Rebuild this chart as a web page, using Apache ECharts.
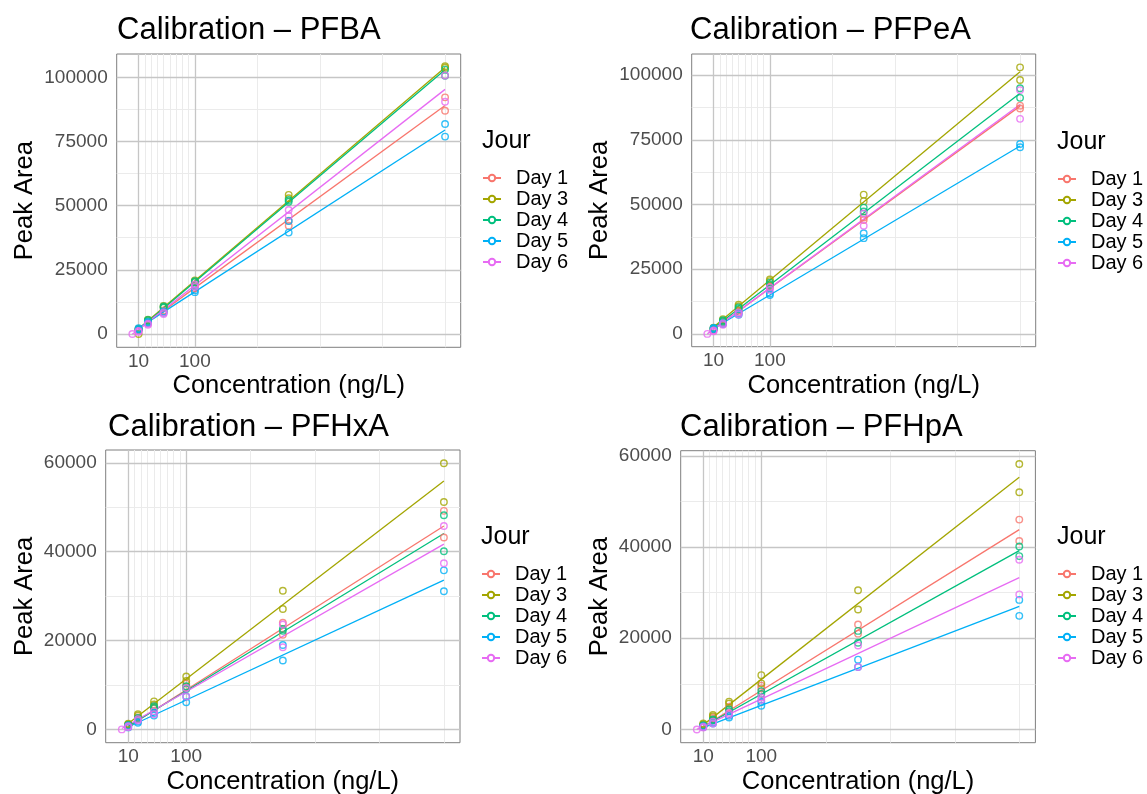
<!DOCTYPE html>
<html><head><meta charset="utf-8">
<script src="https://cdn.jsdelivr.net/npm/echarts@6/dist/echarts.min.js"></script>
<style>html,body{margin:0;padding:0;background:#fff}#c{width:1147px;height:794px}</style>
</head><body><div id="c"></div>
<script>
// ---------- DATA ----------
const days = ['Day 1', 'Day 3', 'Day 4', 'Day 5', 'Day 6'];
const concentrations = [0, 10, 25, 50, 100, 250, 500];
const xTickLabels = [10, 100];
const xTickMarks = [10, 20, 30, 40, 50, 60, 70, 80, 90, 100, 200, 300, 400, 500];
const xMinorGrid = [20, 30, 40, 50, 60, 70, 80, 90, 200, 300, 400, 500];
const yLabels100k = [0, 25000, 50000, 75000, 100000];
const yMinor100k = [12500, 37500, 62500, 87500];
const yLabels60k = [0, 20000, 40000, 60000];
const yMinor60k = [10000, 30000, 50000];

// replicate peak areas per concentration (null = no point)
const PFBA_D1 = [null, [1900, 1500], [4700, 4300], [9200, 8700], [18500, 17800], [44100, 42200], [92200, 87000]];
const PFBA_D3 = [null, [2100, 0], [5600, 5300], [10900, 10400], [20900, 20400], [54200, 52900], [104300, 103700]];
const PFBA_D4 = [null, [1900, 1700], [5500, 5000], [10700, 10300], [20600, 20200], [52200, 51500], [103000, 100600]];
const PFBA_D5 = [null, [2300, 1800], [4700, 4300], [8800, 8300], [17000, 16300], [44000, 39500], [81800, 76900]];
const PFBA_D6 = [[0], [1200, 900], [4000, 3600], [8400, 7800], [19300, 18400], [48300, 46000], [100700, 90500]];
const PFBA_FIT_X0 = [10, 10, 10, 10, 0];
const PFBA_FIT_Y0 = [2000, 2050, 1750, 2300, -100];
const PFBA_FIT_Y1 = [89000, 103800, 102900, 79500, 95300];

const PFPeA_D1 = [null, [1900, 1600], [4600, 4200], [9000, 8500], [18500, 17800], [45000, 44000], [88200, 87100]];
const PFPeA_D3 = [null, [2400, 2000], [5700, 5200], [11300, 10700], [21000, 20400], [53800, 51300], [103000, 98100]];
const PFPeA_D4 = [null, [2200, 1900], [5300, 4900], [10200, 9600], [19800, 19000], [48800, 47300], [94900, 91200]];
const PFPeA_D5 = [null, [2300, 1900], [4200, 3800], [7900, 7400], [15600, 15000], [38900, 37000], [73400, 72100]];
const PFPeA_D6 = [[0], [1300, 1000], [4000, 3500], [8300, 7600], [18000, 17000], [46500, 41800], [94200, 83100]];
const PFPeA_FIT_X0 = [10, 10, 10, 10, 0];
const PFPeA_FIT_Y0 = [1800, 2700, 2250, 2100, 0];
const PFPeA_FIT_Y1 = [88000, 101300, 93000, 72600, 88600];

const PFHxA_D1 = [null, [1100, 900], [2700, 2400], [5300, 4700], [10300, 9600], [24000, 21300], [49200, 43200]];
const PFHxA_D3 = [null, [1300, 1100], [3400, 3100], [6300, 5600], [11900, 10900], [31200, 27100], [59900, 51200]];
const PFHxA_D4 = [null, [1000, 800], [2600, 2300], [5200, 4800], [9700, 9100], [22600, 22200], [48200, 40100]];
const PFHxA_D5 = [null, [800, 450], [1800, 1500], [3700, 3100], [7400, 6100], [19000, 15500], [35800, 31100]];
const PFHxA_D6 = [[0], [700, 500], [2300, 2000], [4100, 3400], [9300, 7400], [23600, 18500], [45800, 37400]];
const PFHxA_FIT_X0 = [10, 10, 10, 10, 0];
const PFHxA_FIT_Y0 = [600, 1300, 700, 530, 200];
const PFHxA_FIT_Y1 = [45800, 55900, 44100, 33600, 41700];

const PFHpA_D1 = [null, [1000, 800], [2600, 2300], [5000, 4600], [9600, 9000], [23000, 21000], [46000, 41300]];
const PFHpA_D3 = [null, [1300, 1100], [3200, 2900], [6100, 5700], [11900, 10100], [30500, 26300], [58200, 52000]];
const PFHpA_D4 = [null, [900, 700], [2200, 2000], [4400, 4000], [8400, 7800], [21600, 19000], [40100, 38000]];
const PFHpA_D5 = [null, [700, 500], [1600, 1300], [3000, 2600], [6000, 5200], [15300, 13700], [28400, 24900]];
const PFHpA_D6 = [[0], [600, 400], [1700, 1300], [3600, 3200], [7000, 6500], [18400, 13700], [37200, 29600]];
const PFHpA_FIT_X0 = [10, 10, 10, 10, 0];
const PFHpA_FIT_Y0 = [600, 1000, 630, 400, 0];
const PFHpA_FIT_Y1 = [43800, 55300, 39200, 27000, 33300];
const FIT_X1 = 500;

// ---------- LAYOUT / STYLE ----------
const colors = ['#F8766D', '#A3A500', '#00BF7D', '#00B0F6', '#E76BF3'];
const FONT = '"Liberation Sans", Arial, Helvetica, sans-serif';
const panels = [
  { title: 'Calibration – PFBA', data: [PFBA_D1, PFBA_D3, PFBA_D4, PFBA_D5, PFBA_D6], fx0: PFBA_FIT_X0, fy0: PFBA_FIT_Y0, fy1: PFBA_FIT_Y1,
    yLab: yLabels100k, yMin: yMinor100k, ymin: -5180, ymax: 109080,
    grid: { left: 116.7, top: 54, width: 344, height: 293.3 }, yGap: 79, titleXY: [117, 30], legX: 482, jourY: 141 },
  { title: 'Calibration – PFPeA', data: [PFPeA_D1, PFPeA_D3, PFPeA_D4, PFPeA_D5, PFPeA_D6], fx0: PFPeA_FIT_X0, fy0: PFPeA_FIT_Y0, fy1: PFPeA_FIT_Y1,
    yLab: yLabels100k, yMin: yMinor100k, ymin: -4950, ymax: 108150,
    grid: { left: 691.7, top: 54, width: 344, height: 292.7 }, yGap: 79, titleXY: [690, 30], legX: 1057, jourY: 142 },
  { title: 'Calibration – PFHxA', data: [PFHxA_D1, PFHxA_D3, PFHxA_D4, PFHxA_D5, PFHxA_D6], fx0: PFHxA_FIT_X0, fy0: PFHxA_FIT_Y0, fy1: PFHxA_FIT_Y1,
    yLab: yLabels60k, yMin: yMinor60k, ymin: -3000, ymax: 62900,
    grid: { left: 105.7, top: 450, width: 354.3, height: 292.7 }, yGap: 68, titleXY: [108, 427], legX: 481, jourY: 537 },
  { title: 'Calibration – PFHpA', data: [PFHpA_D1, PFHpA_D3, PFHpA_D4, PFHpA_D5, PFHpA_D6], fx0: PFHpA_FIT_X0, fy0: PFHpA_FIT_Y0, fy1: PFHpA_FIT_Y1,
    yLab: yLabels60k, yMin: yMinor60k, ymin: -2910, ymax: 61110,
    grid: { left: 680.7, top: 450.7, width: 354.7, height: 292 }, yGap: 68, titleXY: [680, 427], legX: 1057, jourY: 537 }
];

const grids = [], xAxes = [], yAxes = [], series = [], legends = [], graphics = [];
const MAJOR = '#c6c6c6', MINOR = '#ebebeb';

panels.forEach((p, i) => {
  grids.push(Object.assign({ show: true, borderColor: '#7f7f7f', borderWidth: 1, backgroundColor: 'transparent', containLabel: false, outerBoundsMode: 'none' }, p.grid));
  xAxes.push({
    gridIndex: i, type: 'value', min: -25, max: 525,
    axisLine: { show: false }, splitLine: { show: false }, minorTick: { show: false },
    axisTick: { show: true, customValues: xTickMarks, length: 4, lineStyle: { color: '#333', width: 1 } },
    axisLabel: { customValues: xTickLabels, formatter: v => String(v), fontSize: 19, color: '#4d4d4d', margin: 5, fontFamily: FONT },
    name: 'Concentration (ng/L)', nameLocation: 'middle', nameGap: 26,
    nameTextStyle: { fontSize: 25.5, color: '#000', fontFamily: FONT }
  });
  const yTicks = p.yLab.concat(p.yMin).sort((a, b) => a - b);
  yAxes.push({
    gridIndex: i, type: 'value', min: p.ymin, max: p.ymax,
    axisLine: { show: false }, splitLine: { show: false },
    axisTick: { show: true, customValues: yTicks, length: 4, lineStyle: { color: '#333', width: 1 } },
    axisLabel: { customValues: p.yLab, formatter: v => String(v), fontSize: 19, color: '#4d4d4d', margin: 9, fontFamily: FONT },
    name: 'Peak Area', nameLocation: 'middle', nameGap: p.yGap,
    nameTextStyle: { fontSize: 25.5, color: '#000', fontFamily: FONT }
  });
  // grid lines through the axes' scales
  const ml = [];
  xMinorGrid.forEach(v => ml.push({ xAxis: v, lineStyle: { color: MINOR, width: 1, type: 'solid' } }));
  p.yMin.forEach(v => ml.push({ yAxis: v, lineStyle: { color: MINOR, width: 1, type: 'solid' } }));
  p.yLab.forEach(v => ml.push({ yAxis: v, lineStyle: { color: MAJOR, width: 1.3, type: 'solid' } }));
  xTickLabels.forEach(v => ml.push({ xAxis: v, lineStyle: { color: MAJOR, width: 1.3, type: 'solid' } }));
  series.push({
    type: 'line', name: 'grid' + i, xAxisIndex: i, yAxisIndex: i, data: [], z: 1, silent: true,
    markLine: { silent: true, z: 1, zlevel: 0, symbol: ['none', 'none'], label: { show: false }, animation: false, data: ml }
  });
});

// fit lines first (legend takes its icon from the first series of a name)
panels.forEach((p, i) => {
  days.forEach((d, k) => {
    series.push({
      type: 'line', name: d, xAxisIndex: i, yAxisIndex: i, z: 6, silent: true,
      data: [[p.fx0[k], p.fy0[k]], [FIT_X1, p.fy1[k]]],
      symbol: 'emptyCircle', symbolSize: 7, showSymbol: false,
      lineStyle: { color: colors[k], width: 1.3 }, itemStyle: { color: colors[k] }
    });
  });
});
panels.forEach((p, i) => {
  days.forEach((d, k) => {
    const pts = [];
    p.data[k].forEach((reps, ci) => { if (reps) reps.forEach(v => pts.push([concentrations[ci], v])); });
    series.push({
      type: 'scatter', name: d, xAxisIndex: i, yAxisIndex: i, z: 7, silent: true,
      data: pts, symbol: 'circle', symbolSize: 6.5,
      itemStyle: { color: 'rgba(255,255,255,0)', borderColor: colors[k], borderWidth: 1.4 }
    });
  });
  legends.push({
    data: days, orient: 'vertical', left: p.legX, top: p.jourY + 27, padding: 0,
    itemWidth: 18, itemHeight: 8, itemGap: 1, selectedMode: false,
    textStyle: { fontSize: 20, color: '#000', fontFamily: FONT, lineHeight: 20, padding: [0, 0, 0, 10] }
  });
  graphics.push({ type: 'text', x: p.titleXY[0], y: p.titleXY[1], silent: true,
    style: { text: p.title, fill: '#000', font: '31px ' + FONT, align: 'left', verticalAlign: 'middle' } });
  graphics.push({ type: 'text', x: p.legX, y: p.jourY, silent: true,
    style: { text: 'Jour', fill: '#000', font: '25px ' + FONT, align: 'left', verticalAlign: 'middle' } });
});

const chart = echarts.init(document.getElementById('c'), null, { renderer: 'canvas' });
chart.setOption({
  animation: false, backgroundColor: '#fff',
  grid: grids, xAxis: xAxes, yAxis: yAxes, series: series, legend: legends, graphic: graphics
});
</script></body></html>
